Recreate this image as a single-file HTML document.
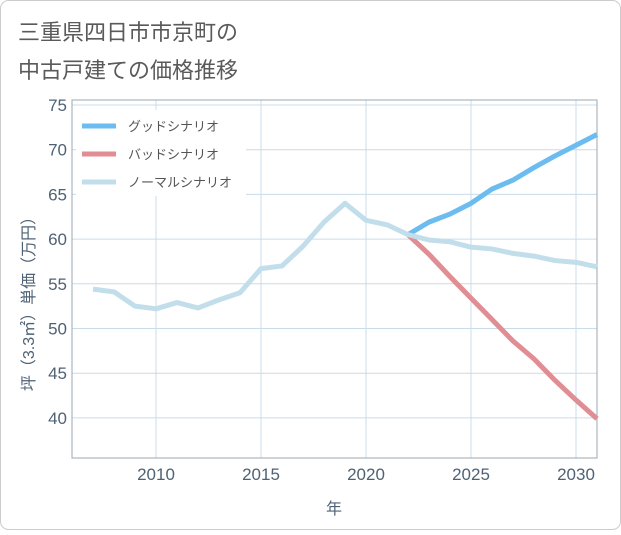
<!DOCTYPE html>
<html><head><meta charset="utf-8"><style>
body{margin:0;background:#fff;}
svg text{font-family:"Liberation Sans","Noto Sans CJK JP",sans-serif;}
</style></head><body>
<svg id="chart" width="621" height="530" xmlns="http://www.w3.org/2000/svg">
<rect x="0.5" y="0.5" width="620" height="529" rx="8" fill="#fff" stroke="#ccc"/>
<text x="18" y="40" font-size="22" fill="#5a5a5a">三重県四日市市京町の</text>
<text x="18" y="78" font-size="22" fill="#5a5a5a">中古戸建ての価格推移</text>
<g id="grid"></g>
<g id="series"></g>
<g id="legend"></g>
<text transform="translate(34,300) rotate(-90)" text-anchor="middle" font-size="16" fill="#4f6275">坪（3.3㎡）単価（万円）</text>
<text x="334" y="514" text-anchor="middle" font-size="16" fill="#4f6275">年</text>
</svg>
<script>
const years=[2007,2008,2009,2010,2011,2012,2013,2014,2015,2016,2017,2018,2019,2020,2021,2022,2023,2024,2025,2026,2027,2028,2029,2030,2031];
const normalValues=[54.4,54.1,52.5,52.2,52.9,52.3,53.2,54.0,56.7,57.0,59.2,61.9,64.0,62.1,61.6,60.5,59.9,59.7,59.1,58.9,58.4,58.1,57.6,57.4,56.9];
const futureYears=[2022,2023,2024,2025,2026,2027,2028,2029,2030,2031];
const goodValues=[60.5,61.9,62.8,64.0,65.6,66.6,68.0,69.3,70.5,71.7];
const badValues=[60.5,58.3,55.8,53.4,51.0,48.6,46.6,44.2,42.0,39.9];
const yTicks=[40,45,50,55,60,65,70,75];
const xTicks=[2010,2015,2020,2025,2030];
const NS="http://www.w3.org/2000/svg";
const L=72,R=597,T=100,B=458;
const xs=v=>156+(v-2010)*21;
const ys=v=>105+(75-v)*8.94;
function mk(tag,attrs,parent){const e=document.createElementNS(NS,tag);for(const k in attrs)e.setAttribute(k,attrs[k]);parent.appendChild(e);return e;}
const grid=document.getElementById('grid');
yTicks.forEach(t=>{
 const l=mk('line',{x1:L,x2:R,y1:ys(t),y2:ys(t),stroke:'#c9dce8','stroke-width':1},grid);
 
 
 const tx=mk('text',{x:L-5,y:ys(t)+6,'text-anchor':'end','font-size':17,fill:'#4f6275'},grid);
 tx.textContent=t;
 
 
});
xTicks.forEach(t=>{
 const l=mk('line',{x1:xs(t),x2:xs(t),y1:T,y2:B,stroke:'#c9dce8','stroke-width':1},grid);
 
 
 const tx=mk('text',{x:xs(t),y:B+22,'text-anchor':'middle','font-size':17,fill:'#4f6275'},grid);
 tx.textContent=t;
 
 
});
const frame=mk('rect',{x:L,y:T,width:R-L,height:B-T,fill:'none',stroke:'#9aa8b4'},grid);


const ser=document.getElementById('series');
function line(xv,yv,color,name){
 const p=mk('polyline',{points:xv.map((x,i)=>xs(x)+','+ys(yv[i])).join(' '),fill:'none',stroke:color,'stroke-width':5,'stroke-linejoin':'round'},ser);
 
 
}
line(futureYears,goodValues,'#6cbcf0','good-scenario-line');
line(futureYears,badValues,'#e08e94','bad-scenario-line');
line(years,normalValues,'#c2deeb','normal-scenario-line');
const lg=document.getElementById('legend');
const bg=mk('rect',{x:76,y:110,width:170,height:86,fill:'#fff'},lg);


[['グッドシナリオ','#6cbcf0',126],['バッドシナリオ','#e08e94',154],['ノーマルシナリオ','#c2deeb',182]].forEach(([n,c,y])=>{
 const s=mk('line',{x1:82,x2:116,y1:y,y2:y,stroke:c,'stroke-width':5},lg);
 
 
 const t=mk('text',{x:128,y:y+5,'font-size':13,fill:'#555'},lg);
 t.textContent=n;
 
 
});
</script>
</body></html>
